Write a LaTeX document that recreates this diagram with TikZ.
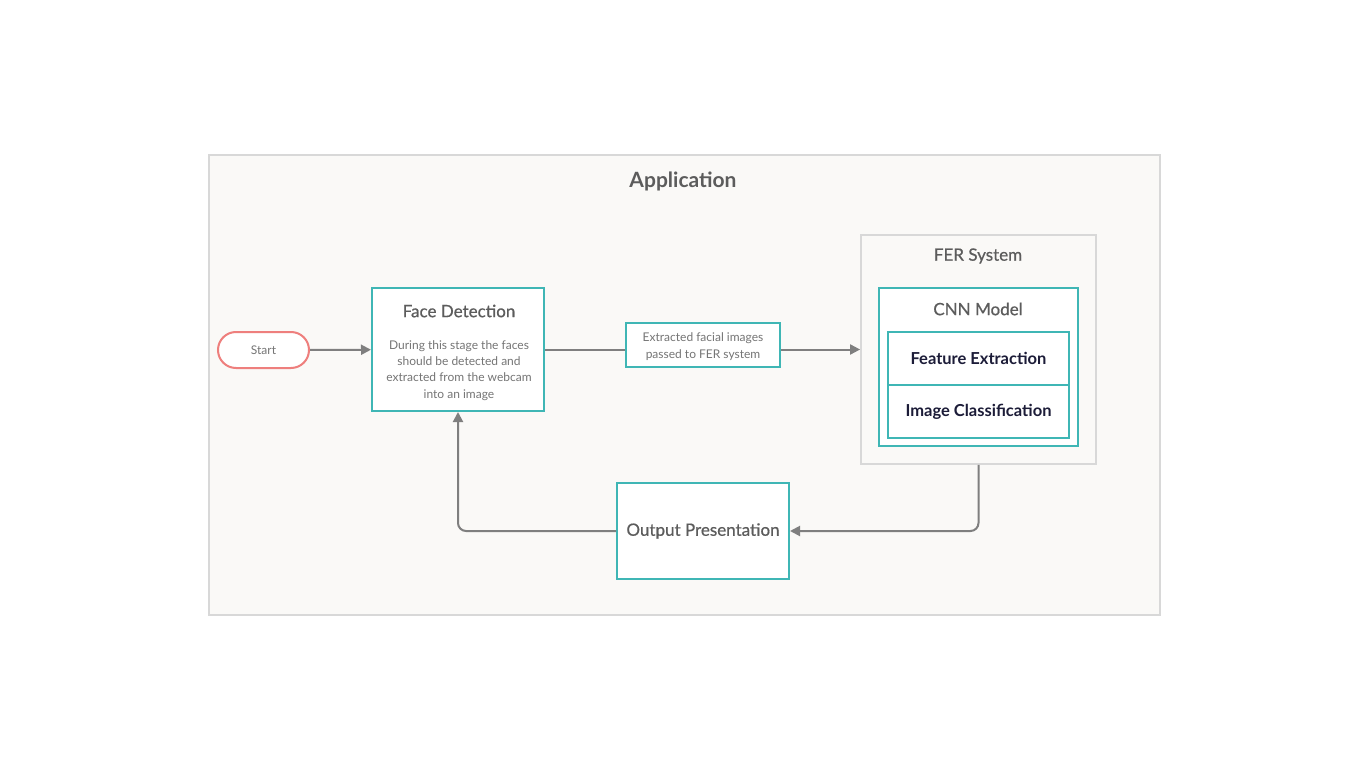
\documentclass[tikz,border=0pt]{standalone}
\usepackage{fontspec}
\setmainfont{Lato}
\newfontface\latomed{Lato}[FakeBold=0.6]
\usetikzlibrary{arrows.meta}
\definecolor{tealbox}{HTML}{3FB6B5}
\definecolor{salmon}{HTML}{EE7F7D}
\definecolor{linegray}{HTML}{7F7F7F}
\definecolor{framegray}{HTML}{D8D8D8}
\definecolor{paper}{HTML}{FAF9F7}
\definecolor{textgray}{HTML}{5C5C5C}
\definecolor{navy}{HTML}{1C1C38}
\begin{document}
\begin{tikzpicture}[x=1pt,y=-1pt]
  \tikzset{
    box/.style={draw=tealbox,line width=2pt,fill=white,inner sep=0pt},
    frame/.style={draw=framegray,line width=1.8pt,inner sep=0pt},
    flow/.style={draw=linegray,line width=2pt,-{Triangle[length=10pt,width=10pt]}},
    link/.style={draw=linegray,line width=2pt},
    title/.style={text=textgray,font=\latomed\fontsize{17}{20}\selectfont},
    small/.style={text=textgray!85,font=\fontsize{12}{16.3}\selectfont,align=center},
    step box/.style={box,minimum width=181pt,minimum height=53pt,text=navy,font=\bfseries\fontsize{16.5}{19}\selectfont}
  }

  \useasboundingbox[fill=white] (0,0) rectangle (1366,768);

  %APPLICATION
  \node[frame,fill=paper,minimum width=951pt,minimum height=460pt] (app) at (684.5,385) {};
  \node[text=textgray,font=\bfseries\fontsize{21}{25}\selectfont] (apptitle) at (683,181) {Application};

  %START
  \node[draw=salmon,line width=2pt,fill=white,rounded corners=18pt,minimum width=91pt,minimum height=36pt,
        text=textgray!85,font=\fontsize{12}{14}\selectfont] (start) at (263.5,350) {Start};

  %FACE DETECTION
  \node[box,minimum width=172pt,minimum height=123pt] (fd) at (458,349.5) {};
  \node[title] (fdtitle) at (459,311) {Face Detection};
  \node[small] (fdtext) at (459,370.5) {During this stage the faces\\should be detected and\\extracted from the webcam\\into an image};

  %MESSAGE
  \node[box,minimum width=154pt,minimum height=44pt] (msg) at (703,345) {};
  \node[small] (msgtext) at (703,346.5) {Extracted facial images\\passed to FER system};

  %FER SYSTEM
  \node[frame,fill=paper,minimum width=235pt,minimum height=229pt] (fer) at (978.5,349.5) {};
  \node[title] (fertitle) at (978,256) {FER System};
  \node[box,minimum width=199pt,minimum height=158pt] (cnn) at (978.5,367) {};
  \node[title] (cnntitle) at (978,309) {CNN Model};
  \node[step box] (feat) at (978.5,358.5) {Feature Extraction};
  \node[step box] (cls) at (978.5,411.5) {Image Classification};

  %OUTPUT
  \node[box,minimum width=172pt,minimum height=96pt,title] (out) at (703,531) {Output Presentation};

  %CONNECTORS
  \draw[flow] (start) -- (fd);
  \draw[link] (fd) -- (msg.west |- fd.east);
  \draw[flow] (msg.east |- fd.east) -- (fer.west);
  \draw[flow,rounded corners=8pt] (fer.south) |- (out.east);
  \draw[flow,rounded corners=8pt] (out.west) -| (fd.south);
\end{tikzpicture}
\end{document}
